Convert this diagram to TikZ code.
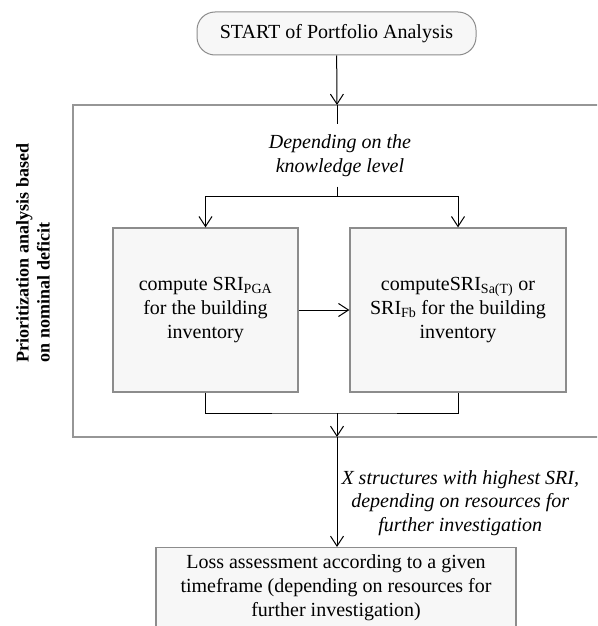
\documentclass[tikz,border=0pt]{standalone}
\usepackage{fontspec}
\setmainfont{Liberation Serif}
\usetikzlibrary{
  positioning,
  calc,
  arrows.meta}
\definecolor{boxcolor}{RGB}{247,247,247}
\definecolor{linecolor}{RGB}{140,140,140}
\definecolor{framecolor}{RGB}{150,150,150}
\tikzset{
  %% startbox : entry point of the analysis
  startbox/.style={
    rectangle,
    rounded corners=18pt,
    draw=linecolor,
    line width=1pt,
    fill=boxcolor,
    minimum width=279pt,
    minimum height=43pt,
    align=center
  },
  %% taskbox : a computation step
  taskbox/.style={
    rectangle,
    draw=linecolor,
    line width=1.2pt,
    fill=boxcolor,
    minimum height=164pt,
    inner sep=0pt,
    align=center
  },
  %% note : italic text on a connection
  note/.style={
    font=\fontsize{20}{23.5}\selectfont\itshape,
    align=center
  },
  %% flow : connection with an open arrow tip
  flow/.style={
    black,
    line width=1pt,
    -{Straight Barb[length=10pt, width=13pt, line width=1pt]}
  },
  %% link : connection without a tip
  link/.style={black, line width=1pt},
  %% frame : frame around the prioritization part
  frame/.style={framecolor, line width=1.2pt}
}

\begin{document}
\begin{tikzpicture}
  [x=1pt,
  y=-1pt,
  font=\fontsize{20}{24}\selectfont]

  \clip (0, 0) rectangle (597, 626);

  %% Frame around the prioritization part
  \coordinate (intop) at (337, 105);
  \coordinate (inbot) at (337, 437);
  \draw [frame] (73, 105) rectangle (620, 437);
  \node (framelabel) [rotate=90, align=left,
  font=\fontsize{18}{21}\selectfont\bfseries] at (33, 253) {%
    Prioritization analysis based\\
    on nominal deficit};

  %% Main workflow
  \node (start) [startbox] at (336.5, 33.5) {%
    START of Portfolio Analysis};

  \node (depend) [note, inner sep=0pt, minimum height=62pt] at (340, 155.5) {%
    Depending on the\\
    knowledge level};

  \node (pga) [taskbox, minimum width=185pt] at (205.5, 310) {%
    compute SRI\textsubscript{PGA}\\
    for the building\\
    inventory};

  \node (sat) [taskbox, minimum width=216pt] at (458, 310) {%
    computeSRI\textsubscript{Sa(T)} or\\
    SRI\textsubscript{Fb} for the building\\
    inventory};

  \node (loss) [rectangle, draw=linecolor, line width=1.2pt, fill=boxcolor,
  anchor=north, minimum width=360pt, inner ysep=7pt, text depth=40pt,
  align=center] at (336, 547) {%
    Loss assessment according to a given\\
    timeframe (depending on resources for\\
    further investigation)};

  %% Connections
  \coordinate (fork) at (337, 196);
  \coordinate (join) at (337, 413);
  \draw [flow] (start) -- (intop);
  \draw [link] (intop) -- (intop |- depend.north);
  \draw [link] (fork |- depend.south) -- (fork);
  \draw [flow] (fork) -| (pga.north);
  \draw [flow] (fork) -| (sat.north);
  \draw [flow] (pga) -- (sat);
  \draw [link] (pga.south) |- (join) -| (sat.south);
  \draw [flow] (join) -- (inbot);
  \draw [flow] (inbot) -- node [note, anchor=west, pos=0.6, inner xsep=4pt] {%
    X structures with highest SRI,\\
    depending on resources for\\
    further investigation} (inbot |- loss.north);

\end{tikzpicture}
\end{document}
